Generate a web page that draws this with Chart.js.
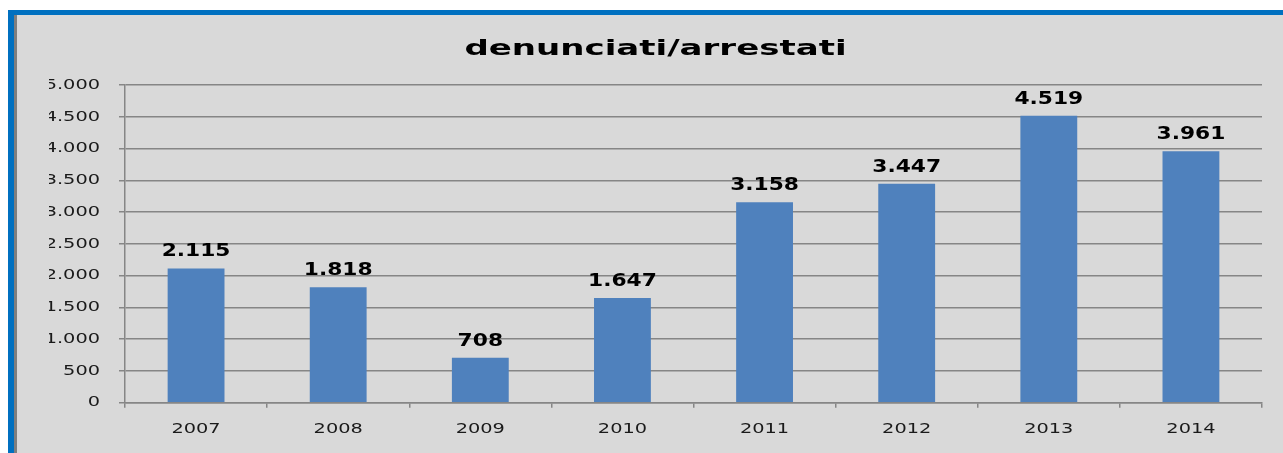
<!DOCTYPE html>
<html>
<head>
<meta charset="utf-8">
<script src="https://cdn.jsdelivr.net/npm/chart.js@4.4.1/dist/chart.umd.min.js"></script>
<style>
  html, body { margin: 0; padding: 0; background: #fff; width: 1283px; height: 453px; overflow: hidden; }
  #frame { position: absolute; left: 8px; top: 10px; right: 0; bottom: 0; border-top: 5px solid #0070c0; border-left: 6px solid #0070c0; }
  #inner { position: absolute; left: 0; top: 0; right: 0; bottom: 0; border-left: 3px solid #7f7f7f; background: #d9d9d9; }
  canvas { position: absolute; left: 0; top: 0; }
</style>
</head>
<body>
<div id="frame"><div id="inner"><canvas id="chart" width="1266" height="438"></canvas></div></div>
<script>
const years = ["2007", "2008", "2009", "2010", "2011", "2012", "2013", "2014"];
const denunciati = [2115, 1818, 708, 1647, 3158, 3447, 4519, 3961];
const yTickValues = [0, 500, 1000, 1500, 2000, 2500, 3000, 3500, 4000, 4500, 5000];

// numbers with the italian thousands dot
function fmt(v) {
    return String(v).replace(/\B(?=(\d{3})+(?!\d))/g, ".");
}

// the original text is drawn wide, so stretch glyphs sideways by font size
const textStretch = { 21: 1.62, 17: 1.28, 14: 1.38 };
const canvas = document.getElementById("chart");
const ctx = canvas.getContext("2d");
const baseFill = ctx.fillText;
const baseMeasure = ctx.measureText;
function stretchOf(c) {
    const m = /(\d+)px/.exec(c.font);
    return (m && textStretch[m[1]]) || 1;
}
ctx.fillText = function (text, x, y) {
    const k = stretchOf(this);
    this.save();
    this.translate(x, y);
    this.scale(k, 1);
    baseFill.call(this, text, 0, 0);
    this.restore();
};
ctx.measureText = function (text) {
    const m = baseMeasure.call(this, text);
    return {
        width: m.width * stretchOf(this),
        actualBoundingBoxAscent: m.actualBoundingBoxAscent,
        actualBoundingBoxDescent: m.actualBoundingBoxDescent
    };
};

// valori sopra le barre
const barLabels = {
    id: "barLabels",
    afterDatasetsDraw(chart) {
        const c = chart.ctx;
        const meta = chart.getDatasetMeta(0);
        c.save();
        c.font = "bold 17px 'DejaVu Sans'";
        c.fillStyle = "#000";
        c.textAlign = "center";
        c.textBaseline = "alphabetic";
        meta.data.forEach((bar, i) => {
            c.fillText(fmt(denunciati[i]), bar.x, bar.y - 12);
        });
        c.restore();
    }
};

new Chart(ctx, {
    type: "bar",
    data: {
        labels: years,
        datasets: [{
            data: denunciati,
            backgroundColor: "#4f81bd",
            borderWidth: 0,
            barPercentage: 0.4,
            categoryPercentage: 1
        }]
    },
    options: {
        responsive: false,
        devicePixelRatio: 1,
        animation: false,
        layout: { padding: { left: 32, right: 21, top: 0, bottom: 0 } },
        plugins: {
            legend: { display: false },
            tooltip: { enabled: false },
            title: {
                display: true,
                text: "denunciati/arrestati",
                color: "#000",
                font: { family: "DejaVu Sans", size: 21, weight: "bold" },
                padding: { top: 22, bottom: 23 }
            }
        },
        scales: {
            x: {
                grid: {
                    drawOnChartArea: false,
                    drawTicks: true,
                    tickLength: 5,
                    color: "#868686",
                    lineWidth: 1.5
                },
                border: { color: "#868686", width: 1.5 },
                ticks: {
                    color: "#1a1a1a",
                    padding: 13,
                    font: { family: "DejaVu Sans", size: 14 }
                },
                afterFit(scale) { scale.height = 50.3; }
            },
            y: {
                min: 0,
                max: 5000,
                afterBuildTicks(scale) {
                    scale.ticks = yTickValues.map(v => ({ value: v }));
                },
                grid: {
                    color: "#868686",
                    lineWidth: 1.5,
                    tickLength: 6
                },
                border: { color: "#868686", width: 1.5 },
                ticks: {
                    color: "#1a1a1a",
                    padding: 19,
                    font: { family: "DejaVu Sans", size: 14 },
                    callback: v => fmt(v)
                },
                afterFit(scale) { scale.width = 76; }
            }
        }
    },
    plugins: [barLabels]
});
</script>
</body>
</html>
